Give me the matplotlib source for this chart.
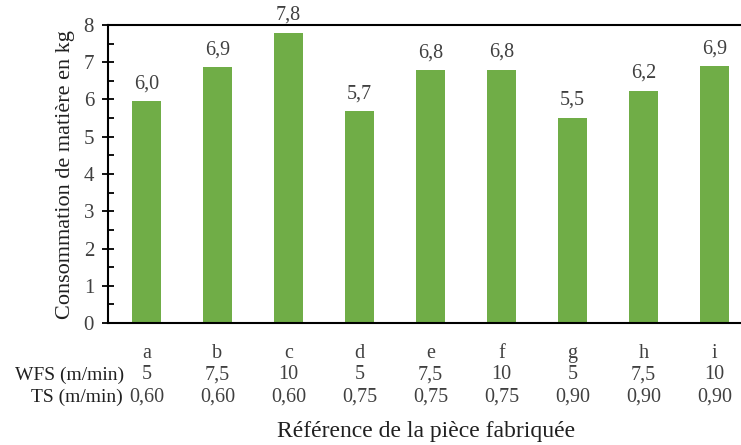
import numpy as np
import matplotlib.pyplot as plt

refs = ['a', 'b', 'c', 'd', 'e', 'f', 'g', 'h', 'i']
conso = [5.95, 6.86, 7.78, 5.68, 6.78, 6.80, 5.51, 6.24, 6.89]
wfs = ['5', '7,5', '10', '5', '7,5', '10', '5', '7,5', '10']
ts = ['0,60', '0,60', '0,60', '0,75', '0,75', '0,75', '0,90', '0,90', '0,90']

plt.rcParams['font.family'] = ['Liberation Serif', 'DejaVu Serif']
txt = '#404040'

fig = plt.figure(figsize=(7.41, 4.45), dpi=100)
ax = fig.add_axes([108/741, 122/445, 633/741, 298/445])

x = np.arange(len(refs))
bars = ax.bar(x, conso, width=0.4, color='#70AD47', zorder=2)
for xi, v in zip(x, conso):
    ax.text(xi, v + 0.22, f'{v:.1f}'.replace('.', ','), ha='center', va='bottom',
            fontsize=14.5, color=txt)

ax.set_ylim(0, 8)
ax.set_xlim(-0.542, 8.373)
ax.set_yticks(range(0, 9))
ax.set_yticks(np.arange(0.5, 8, 1), minor=True)
ax.tick_params(axis='y', which='major', direction='inout', length=8, width=1.3,
               labelsize=15, labelcolor=txt, pad=6)
ax.tick_params(axis='y', which='minor', direction='in', length=4, width=1.3)
ax.tick_params(axis='x', length=0, labelbottom=False)

for s in ['left', 'top', 'bottom']:
    ax.spines[s].set_linewidth(1.5)
ax.spines['right'].set_visible(False)

tr = ax.get_xaxis_transform()
rows = [(refs, -0.1007), (wfs, -0.174), (ts, -0.248)]
for labels, yy in rows:
    for xi, lab in zip(x, labels):
        ax.text(xi, yy, lab, transform=tr, ha='center', va='center',
                fontsize=14.5, color=txt, clip_on=False)

fig.text(124/741, 1 - 375/445, 'WFS (m/min)', ha='right', va='center', fontsize=14, color='#202020')
fig.text(123/741, 1 - 397/445, 'TS (m/min)', ha='right', va='center', fontsize=14, color='#202020')

fig.text(66/741, 1 - 175/445, 'Consommation de matière en kg', rotation=90,
         ha='center', va='center', fontsize=16, color='#202020')
fig.text(426/741, 1 - 432/445, 'Référence de la pièce fabriquée', ha='center', va='center',
         fontsize=17, color='#202020')

fig.savefig('out.png', dpi=100)
